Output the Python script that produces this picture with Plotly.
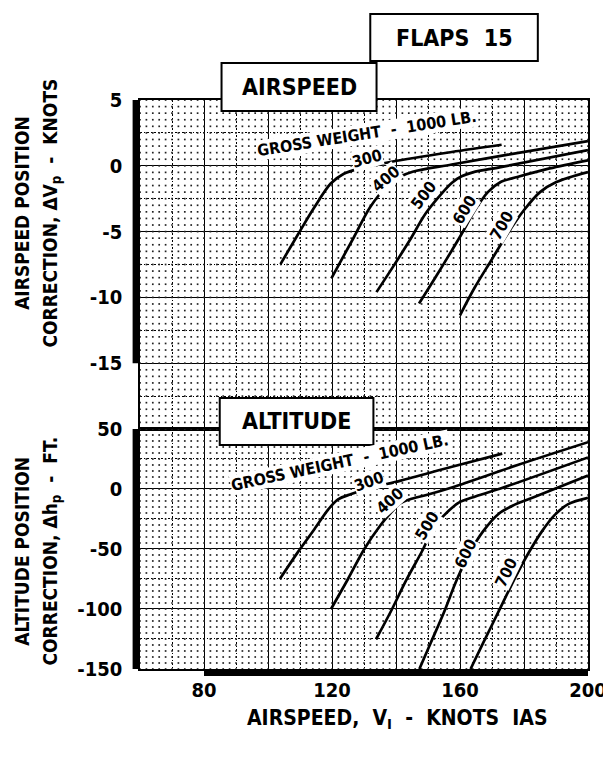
import numpy as np
import plotly.graph_objects as go

# ---------------- data ----------------
weights = ["300", "400", "500", "600", "700"]

# Airspeed position correction (knots) vs indicated airspeed (knots)
spd_x = {
    "300": [103.9, 109.4, 114.5, 119.6, 123.7, 128.8, 139.0, 157.4, 173.0],
    "400": [119.8, 126.8, 131.9, 137.0, 141.1, 145.2, 157.4, 175.0, 200.0],
    "500": [133.9, 139.0, 144.2, 149.2, 153.3, 157.4, 160.5, 164.0, 172.7, 200.0],
    "600": [147.2, 152.3, 157.4, 160.5, 164.6, 168.7, 172.7, 177.9, 188.0, 200.0],
    "700": [160.0, 164.6, 169.7, 174.8, 179.9, 185.0, 190.1, 200.0],
}
spd_y = {
    "300": [-7.47, -5.2, -3.15, -1.35, -0.6, -0.2, 0.33, 1.05, 1.6],
    "400": [-8.55, -5.45, -3.15, -1.6, -0.85, -0.45, 0.1, 0.85, 1.88],
    "500": [-9.6, -7.7, -5.7, -3.65, -2.38, -1.3, -0.8, -0.5, -0.1, 1.2],
    "600": [-10.47, -8.49, -6.45, -5.18, -3.4, -2.0, -1.23, -0.85, -0.2, 0.42],
    "700": [-11.36, -9.25, -7.21, -5.18, -3.4, -2.0, -1.23, -0.47],
}

# Altitude position correction (ft) vs indicated airspeed (knots)
alt_x = {
    "300": [103.7, 109.5, 114.5, 118.9, 121.9, 126.0, 132.0, 141.5, 157.5, 173.2],
    "400": [119.7, 125.0, 130.1, 135.2, 138.3, 141.3, 144.4, 149.5, 157.7, 178.0, 200.0],
    "500": [133.8, 138.3, 143.4, 148.5, 151.5, 155.0, 159.5, 165.0, 173.3, 200.0],
    "600": [147.3, 150.8, 154.9, 159.0, 163.1, 167.2, 172.3, 176.4, 183.6, 200.0],
    "700": [163.3, 167.2, 172.3, 177.4, 181.5, 185.6, 189.7, 193.8, 200.0],
}
alt_y = {
    "300": [-75, -52, -33.5, -16.8, -8.6, -4.2, 0.8, 7.0, 18.5, 29.5],
    "400": [-100, -75, -50, -30, -20, -12, -8.5, -5, 1.5, 20, 39],
    "500": [-125, -102.5, -75, -50, -33, -22, -11.5, -6, 1, 26.3],
    "600": [-150, -128.5, -103.3, -75.6, -52.9, -35.3, -20.2, -13.9, -6.3, 11.3],
    "700": [-150, -128.5, -100.8, -73, -52.9, -35.3, -21.4, -12.6, -7.4],
}

# curve label positions / angles
spd_lbl = {"300": (130.9, 0.55, -15), "400": (137.0, -1.0, -40), "500": (148.6, -2.27, -52),
           "600": (161.4, -3.3, -58), "700": (173.1, -4.56, -60)}
alt_lbl = {"300": (131.6, 5.9, -20), "400": (138.2, -9.8, -42), "500": (149.8, -30.6, -58),
           "600": (161.7, -53.5, -64), "700": (174.4, -69.5, -64)}

x_ticks = [60, 80, 100, 120, 140, 160, 180, 200]
x_text = ["", "80", "", "120", "", "160", "", "200"]
spd_ticks = [5, 0, -5, -10, -15, -20]
spd_text = ["5", "0", "-5", "-10", "-15", ""]
alt_ticks = [50, 0, -50, -100, -150]
alt_text = ["50", "0", "-50", "-100", "-150"]

FONT = "Liberation Sans Narrow, DejaVu Sans Condensed, Arial Narrow, sans-serif"

fig = go.Figure()

# background dot pattern of the chart paper
gx = np.arange(60, 200.01, 2)
for (ax, ay, yy) in [("x", "y", np.arange(-20, 5.01, 0.5)), ("x2", "y2", np.arange(-150, 50.01, 5))]:
    XX, YY = np.meshgrid(gx, yy)
    fig.add_trace(go.Scatter(x=XX.ravel(), y=YY.ravel(), mode="markers", xaxis=ax, yaxis=ay,
                             marker=dict(size=1.7, color="#222", symbol="square", line=dict(width=0)),
                             hoverinfo="skip", showlegend=False))

for w in weights:
    fig.add_trace(go.Scatter(x=spd_x[w], y=spd_y[w], mode="lines", xaxis="x", yaxis="y",
                             line=dict(color="black", width=2.7, shape="spline", smoothing=0.9),
                             showlegend=False, name=w))
    fig.add_trace(go.Scatter(x=alt_x[w], y=alt_y[w], mode="lines", xaxis="x2", yaxis="y2",
                             line=dict(color="black", width=2.7, shape="spline", smoothing=0.9),
                             showlegend=False, name=w))

lfont = dict(family=FONT, size=16, color="black", weight="bold")
ann = []
for w in weights:
    x, y, a = spd_lbl[w]
    ann.append(dict(x=x, y=y, xref="x", yref="y", text=w, showarrow=False, textangle=a,
                    xanchor="center", yanchor="middle", font=lfont, bgcolor="white", borderpad=0))
    x, y, a = alt_lbl[w]
    ann.append(dict(x=x, y=y, xref="x2", yref="y2", text=w, showarrow=False, textangle=a,
                    xanchor="center", yanchor="middle", font=lfont, bgcolor="white", borderpad=0))

ann.append(dict(x=130.9, y=2.49, xref="x", yref="y", text="GROSS WEIGHT  -  1000 LB.",
                showarrow=False, textangle=-9, bgcolor="white", borderpad=0,
                xanchor="center", yanchor="middle", font=lfont))
ann.append(dict(x=122.4, y=21.8, xref="x2", yref="y2", text="GROSS WEIGHT  -  1000 LB.",
                showarrow=False, textangle=-12, bgcolor="white", borderpad=0,
                xanchor="center", yanchor="middle", font=lfont))

# boxed titles
shapes = []
boxes = [("FLAPS  15", 0.514, 0.888, 1.0685, 1.1511),
         ("AIRSPEED", 0.182, 0.528, 0.9807, 1.065),
         ("ALTITUDE", 0.178, 0.521, 0.3937, 0.4763)]
for txt, x0, x1, y0, y1 in boxes:
    shapes.append(dict(type="rect", xref="paper", yref="paper", x0=x0, x1=x1, y0=y0, y1=y1,
                       fillcolor="white", line=dict(color="black", width=2), layer="above"))
    ann.append(dict(x=(x0 + x1) / 2, y=(y0 + y1) / 2, xref="paper", yref="paper", text=txt,
                    xanchor="center", yanchor="middle", showarrow=False,
                    font=dict(family=FONT, size=23, color="black", weight="bold")))

# heavy axis bars
shapes.append(dict(type="rect", xref="x domain", yref="y", x0=-0.0165, x1=0, y0=-15, y1=5,
                   fillcolor="black", line=dict(width=0), layer="above"))
shapes.append(dict(type="rect", xref="x2 domain", yref="y2", x0=-0.0165, x1=0, y0=-150, y1=50,
                   fillcolor="black", line=dict(width=0), layer="above"))
shapes.append(dict(type="rect", xref="x2", yref="y2 domain", x0=80, x1=200, y0=-0.029, y1=0,
                   fillcolor="black", line=dict(width=0), layer="above"))

# axis titles
tfont = dict(family=FONT, size=19, color="black", weight="bold")
common = dict(xref="paper", yref="paper", showarrow=False, font=tfont, xanchor="center", yanchor="middle")
ann += [
    dict(x=-0.262, y=0.801, text="AIRSPEED POSITION", textangle=-90, **common),
    dict(x=-0.198, y=0.801, text="CORRECTION, \u0394V<sub>p</sub>  -  KNOTS", textangle=-90, **common),
    dict(x=-0.262, y=0.207, text="ALTITUDE POSITION", textangle=-90, **common),
    dict(x=-0.198, y=0.207, text="CORRECTION, \u0394h<sub>p</sub>  -  FT.", textangle=-90, **common),
    dict(x=0.575, y=-0.088, text="AIRSPEED,  V<sub>I</sub>  -  KNOTS  IAS", xref="paper", yref="paper",
         showarrow=False, xanchor="center", yanchor="middle",
         font=dict(family=FONT, size=21, color="black", weight="bold")),
]

grid = dict(showgrid=True, gridcolor="black", gridwidth=1.3, zeroline=False,
            showline=True, mirror=True, linecolor="black", linewidth=1.5, ticks="",
            tickfont=dict(family=FONT, size=20, color="black", weight="bold"))

def minor(d):
    return dict(tickmode="linear", tick0=0, dtick=d, showgrid=True, gridcolor="black",
                gridwidth=1, griddash="1.5px,2px", ticks="")

fig.update_layout(
    width=611, height=757,
    margin=dict(l=132, r=22, t=92, b=96),
    paper_bgcolor="white", plot_bgcolor="white",
    showlegend=False,
    xaxis=dict(domain=[0, 1], anchor="y", range=[60, 200], tickmode="array", tickvals=x_ticks,
               showticklabels=False, minor=minor(10), **grid),
    yaxis=dict(domain=[0.4218, 1], anchor="x", range=[-20, 5], tickmode="array", tickvals=spd_ticks,
               ticktext=spd_text, minor=minor(2.5), ticklabelstandoff=12, **grid),
    xaxis2=dict(domain=[0, 1], anchor="y2", range=[60, 200], tickmode="array", tickvals=x_ticks,
                ticktext=x_text, minor=minor(10), ticklabelstandoff=2, **grid),
    yaxis2=dict(domain=[0, 0.4218], anchor="x2", range=[-150, 50], tickmode="array", tickvals=alt_ticks,
                ticktext=alt_text, minor=minor(25), ticklabelstandoff=12, **grid),
    shapes=shapes,
    annotations=ann,
)

fig.write_html("out.html")
